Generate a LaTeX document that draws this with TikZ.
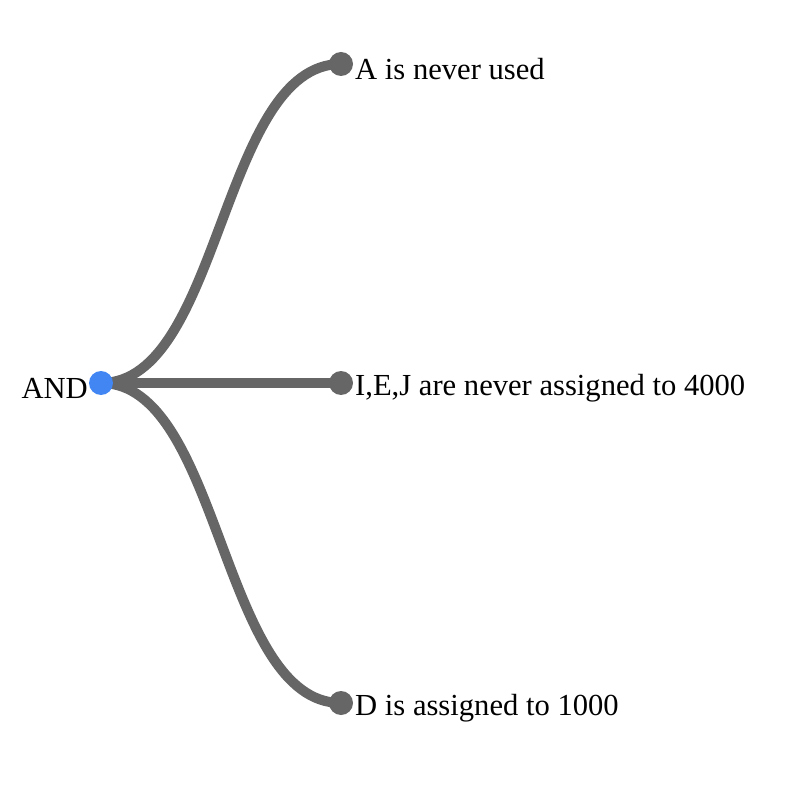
\documentclass[tikz,border=0pt]{standalone}
\usepackage{fontspec}
\setmainfont{Liberation Serif}
\definecolor{linkgray}{HTML}{666666}
\definecolor{rootblue}{HTML}{4286F4}
\tikzset{
  link/.style={draw=linkgray, line width=10pt},
  leafdot/.style={circle, fill=linkgray, minimum size=24pt, inner sep=0pt},
  rootdot/.style={circle, fill=rootblue, minimum size=24pt, inner sep=0pt},
  lbl/.style={inner sep=0pt, font=\fontsize{30.6}{36}\selectfont, text=black}
}
\begin{document}
\begin{tikzpicture}[x=1pt, y=-1pt]
\useasboundingbox (0,0) rectangle (798,786);
\coordinate (r) at (101,383);
\coordinate (pa) at (341,64);
\coordinate (pb) at (341,383);
\coordinate (pc) at (341,703);
\draw[link] (r) .. controls (221,383) and (221,64) .. (pa);
\draw[link] (r) -- (pb);
\draw[link] (r) .. controls (221,383) and (221,703) .. (pc);
\node[rootdot] (root) at (r) {};
\node[leafdot] (a) at (pa) {};
\node[leafdot] (b) at (pb) {};
\node[leafdot] (c) at (pc) {};
\node[lbl, anchor=east] (rootl) at (88,388) {AND};
\node[lbl, anchor=west] (al) at (355,69) {A is never used};
\node[lbl, anchor=west] (bl) at (355,388) {I,E,J are never assigned to 4000};
\node[lbl, anchor=west] (cl) at (355,708) {D is assigned to 1000};
\end{tikzpicture}
\end{document}
